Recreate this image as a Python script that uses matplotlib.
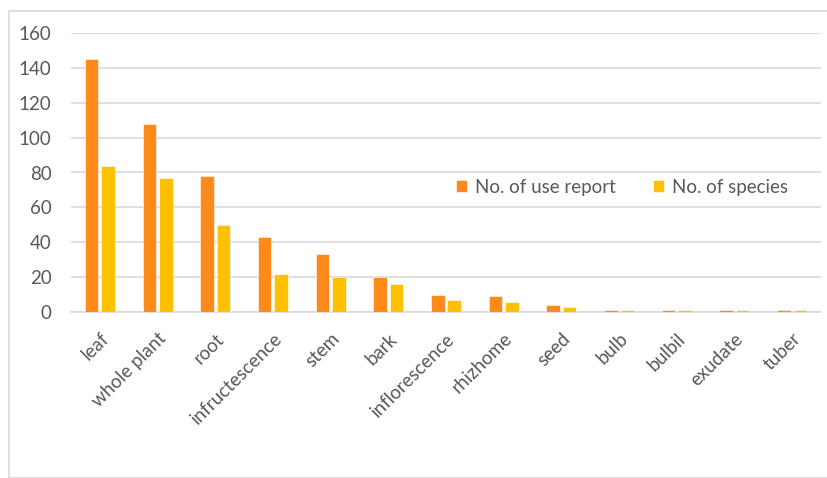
import matplotlib
matplotlib.use("Agg")
import matplotlib.pyplot as plt
import matplotlib.transforms as mtransforms
import numpy as np

categories = ["leaf", "whole plant", "root", "infructescence", "stem", "bark",
              "inflorescence", "rhizhome", "seed", "bulb", "bulbil", "exudate", "tuber"]
use_reports = [145, 108, 78, 43, 33, 20, 10, 9, 4, 1, 1, 1, 1]
species = [84, 77, 50, 22, 20, 16, 7, 6, 3, 1, 1, 1, 1]
yticks = [0, 20, 40, 60, 80, 100, 120, 140, 160]

plt.rcParams['font.family'] = ['Lato', 'DejaVu Sans']
text_color = '#595959'
orange = '#FF8A1C'
yellow = '#FFC000'

fig = plt.figure(figsize=(8.27, 4.78), dpi=100)
# outer chart frame
frame = plt.Rectangle((9/827, 0), 1.0, (478-11)/478, transform=fig.transFigure,
                      fill=False, edgecolor='#d9d9d9', linewidth=1.2)
fig.patches.append(frame)

ax = fig.add_axes([71/827, (478-312)/478, (821-71)/827, (312-33)/478])
x = np.arange(len(categories))
w = 0.235
ax.bar(x - w/2 - 0.025, use_reports, width=w, color=orange, edgecolor='white', linewidth=0.4,
       label='No. of use report', zorder=3)
ax.bar(x + w/2 + 0.025, species, width=w, color=yellow, edgecolor='white', linewidth=0.4,
       label='No. of species', zorder=3)

ax.set_xlim(-0.5, len(categories) - 0.5)
ax.set_ylim(0, 160)
ax.set_yticks(yticks)
ax.set_yticklabels([str(v) for v in yticks], fontsize=13.5, color=text_color)
ax.set_xticks(x)
ax.set_xticklabels(categories, rotation=45, ha='right', rotation_mode='anchor',
                   fontsize=13.5, color=text_color)
offset = mtransforms.ScaledTranslation(3/100, 0, fig.dpi_scale_trans)
for lbl in ax.get_xticklabels():
    lbl.set_transform(lbl.get_transform() + offset)
ax.tick_params(axis='both', length=0)
ax.tick_params(axis='y', pad=14)
ax.tick_params(axis='x', pad=13)
ax.grid(axis='y', color='#d9d9d9', linewidth=1.2, zorder=0)
ax.set_axisbelow(True)
for s in ['top', 'right', 'left']:
    ax.spines[s].set_visible(False)
ax.spines['bottom'].set_color('#d9d9d9')
ax.spines['bottom'].set_linewidth(1.2)

leg = ax.legend(loc='center', bbox_to_anchor=((622 - 71) / 750, (312 - 187) / 279), ncol=2,
                frameon=False, fontsize=13.5, handlelength=0.6, handleheight=0.6,
                handletextpad=0.4, columnspacing=2.0, labelcolor=text_color)

fig.savefig('out.png', dpi=100)
